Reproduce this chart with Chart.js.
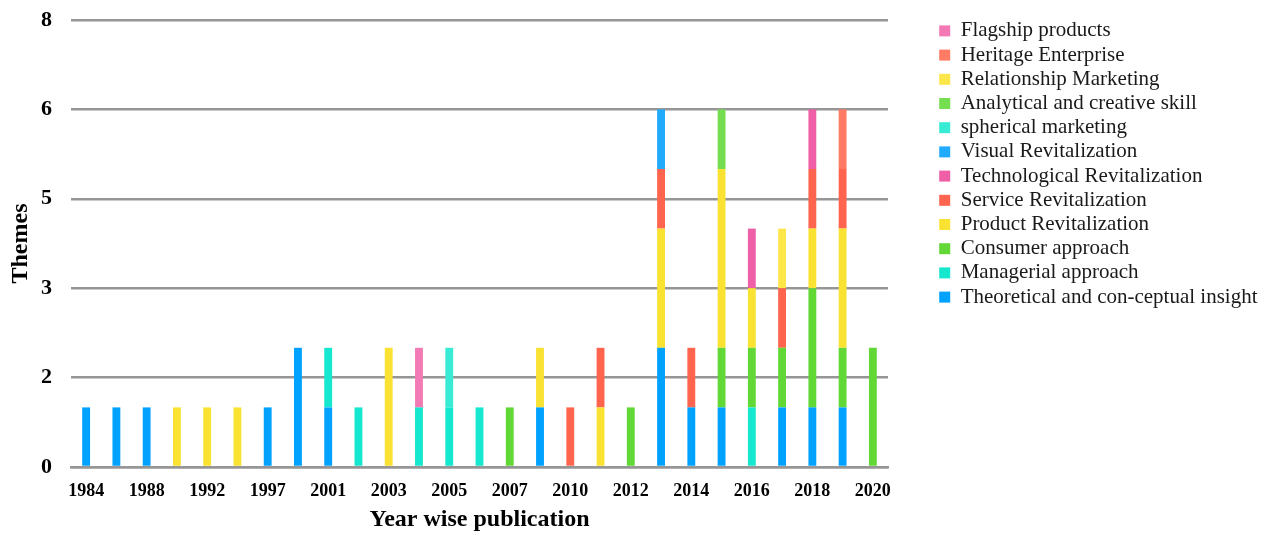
<!DOCTYPE html>
<html>
<head>
<meta charset="utf-8">
<script src="https://cdn.jsdelivr.net/npm/chart.js@4"></script>
<style>
  html, body { margin: 0; padding: 0; background: #fff; }
  #wrap { width: 1274px; height: 534px; }
</style>
</head>
<body>
<div id="wrap"><canvas id="themeChart"></canvas></div>
<script>
// publication years (every second one gets a tick label)
const years = ["1984", "1986", "1988", "1990", "1992", "1995", "1997", "1999", "2001", "2002",
               "2003", "2004", "2005", "2006", "2007", "2009", "2010", "2011", "2012", "2013",
               "2014", "2015", "2016", "2017", "2018", "2019", "2020"];

// themes per year, bottom of the stack first
const theoretical   = [1,1,1,0,0,0,1,2,1,0, 0,0,0,0,0,1,0,0,0,2, 1,1,0,1,1,1,0];
const managerial    = [0,0,0,0,0,0,0,0,1,1, 0,1,1,1,0,0,0,0,0,0, 0,0,1,0,0,0,0];
const consumer      = [0,0,0,0,0,0,0,0,0,0, 0,0,0,0,1,0,0,0,1,0, 0,1,1,1,2,1,2];
const product       = [0,0,0,1,1,1,0,0,0,0, 2,0,0,0,0,1,0,1,0,2, 0,3,1,0,1,2,0];
const service       = [0,0,0,0,0,0,0,0,0,0, 0,0,0,0,0,0,1,1,0,1, 1,0,0,1,1,1,0];
const technological = [0,0,0,0,0,0,0,0,0,0, 0,0,0,0,0,0,0,0,0,0, 0,0,1,0,1,0,0];
const visual        = [0,0,0,0,0,0,0,0,0,0, 0,0,0,0,0,0,0,0,0,1, 0,0,0,0,0,0,0];
const spherical     = [0,0,0,0,0,0,0,0,0,0, 0,0,1,0,0,0,0,0,0,0, 0,0,0,0,0,0,0];
const analytical    = [0,0,0,0,0,0,0,0,0,0, 0,0,0,0,0,0,0,0,0,0, 0,1,0,0,0,0,0];
const relationship  = [0,0,0,0,0,0,0,0,0,0, 0,0,0,0,0,0,0,0,0,0, 0,0,0,1,0,0,0];
const heritage      = [0,0,0,0,0,0,0,0,0,0, 0,0,0,0,0,0,0,0,0,0, 0,0,0,0,0,1,0];
const flagship      = [0,0,0,0,0,0,0,0,0,0, 0,1,0,0,0,0,0,0,0,0, 0,0,0,0,0,0,0];

// y axis runs 0..7.5 in steps of 1.5, labels are rounded
const yMax = 7.5;
const yStep = 1.5;

const serif = "'Liberation Serif', 'Times New Roman', serif";
const gridGrey = "#969696";
const legendWidth = 338;

const series = [
    { label: "Theoretical and con-ceptual insight", data: theoretical, color: "#00A2FF" },
    { label: "Managerial approach", data: managerial, color: "#16E7CF" },
    { label: "Consumer approach", data: consumer, color: "#61D836" },
    { label: "Product Revitalization", data: product, color: "#FAE232" },
    { label: "Service Revitalization", data: service, color: "#FF644E" },
    { label: "Technological Revitalization", data: technological, color: "#EF5FA7" },
    { label: "Visual Revitalization", data: visual, color: "#21ABFF" },
    { label: "spherical marketing", data: spherical, color: "#38EBD5" },
    { label: "Analytical and creative skill", data: analytical, color: "#74DD50" },
    { label: "Relationship Marketing", data: relationship, color: "#FCE649" },
    { label: "Heritage Enterprise", data: heritage, color: "#FF7B63" },
    { label: "Flagship products", data: flagship, color: "#F37AB5" }
];

// legend is capped at a fraction of the canvas by the layout, give it the room it needs
const fixedLegendWidth = {
    id: "fixedLegendWidth",
    beforeLayout(chart) {
        const legend = chart.legend;
        if (!legend || legend._widthFixed) return;
        const fit = legend.fit.bind(legend);
        legend.fit = function () {
            fit();
            this.width = legendWidth;
        };
        legend._widthFixed = true;
    }
};

const ctx = document.getElementById("themeChart").getContext("2d");

new Chart(ctx, {
    type: "bar",
    data: {
        labels: years,
        datasets: series.map(s => ({
            label: s.label,
            data: s.data.map(v => v === 0 ? null : v),
            backgroundColor: s.color,
            borderWidth: 0,
            categoryPercentage: 1,
            barPercentage: 0.26
        }))
    },
    plugins: [fixedLegendWidth],
    options: {
        responsive: true,
        maintainAspectRatio: false,
        animation: false,
        layout: {
            padding: { left: 6, right: 0, top: 9, bottom: 0 }
        },
        plugins: {
            tooltip: { enabled: false },
            legend: {
                position: "right",
                align: "start",
                reverse: true,
                title: {
                    display: true,
                    text: "",
                    font: { size: 1 },
                    padding: { top: 7, bottom: 0 }
                },
                labels: {
                    color: "#1a1a1a",
                    font: { family: serif, size: 21 },
                    boxWidth: 11,
                    boxHeight: 11,
                    padding: 3.2
                }
            }
        },
        scales: {
            x: {
                stacked: true,
                grid: { display: false, drawTicks: false },
                border: { display: true, color: gridGrey, width: 2.5 },
                ticks: {
                    color: "#000",
                    font: { family: serif, size: 18, weight: "bold" },
                    autoSkip: false,
                    maxRotation: 0,
                    padding: 14,
                    callback: function (value, index) {
                        return index % 2 === 0 ? this.getLabelForValue(value) : "";
                    }
                },
                title: {
                    display: true,
                    text: "Year wise publication",
                    color: "#000",
                    font: { family: serif, size: 24, weight: "bold" },
                    padding: { top: 0, bottom: 0 }
                },
                afterFit: scale => {
                    scale.height = 67;
                    scale.paddingLeft = 0;
                    scale.paddingRight = 0;
                }
            },
            y: {
                stacked: true,
                min: 0,
                max: yMax,
                grid: { color: gridGrey, lineWidth: 2.5, drawTicks: false },
                border: { display: false },
                ticks: {
                    stepSize: yStep,
                    color: "#000",
                    padding: 19,
                    font: { family: serif, size: 22, weight: "bold" },
                    callback: value => Math.round(value)
                },
                title: {
                    display: true,
                    text: "Themes",
                    color: "#000",
                    font: { family: serif, size: 24, weight: "bold" },
                    padding: { top: 0, bottom: 0 }
                },
                afterFit: scale => {
                    scale.width = 65;
                    scale.paddingTop = 20;
                    scale.paddingBottom = 0;
                }
            },
            // empty right-hand axis, only there to keep a gap before the legend
            gap: {
                type: "linear",
                position: "right",
                display: true,
                grid: { display: false, drawTicks: false },
                border: { display: false },
                ticks: { display: false },
                afterFit: scale => { scale.width = 48; }
            }
        }
    }
});
</script>
</body>
</html>
